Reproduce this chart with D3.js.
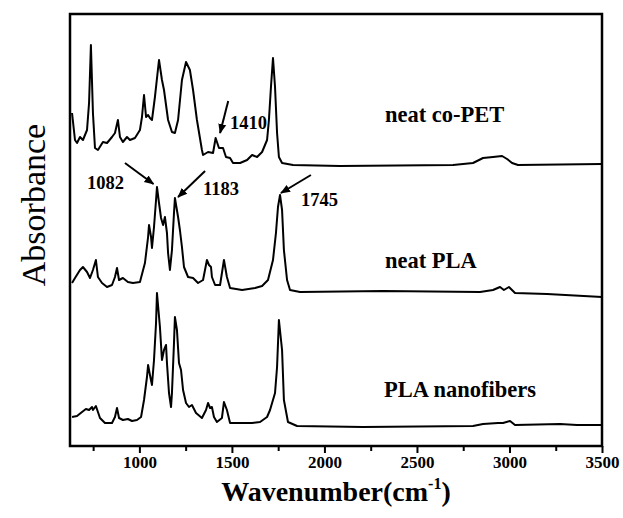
<!DOCTYPE html>
<html>
<head>
<meta charset="utf-8">
<script src="https://cdn.jsdelivr.net/npm/d3@7"></script>
<style>
  body { margin: 0; background: #fff; }
  text { font-family: "Liberation Serif", "Times New Roman", serif; fill: #000; }
  .spectrum { fill: none; stroke: #000; stroke-width: 2px; stroke-linejoin: round; }
  .axis text { font-size: 17px; font-weight: bold; }
  .axis line, .axis path { stroke: #000; stroke-width: 2px; }
</style>
</head>
<body>
<svg id="chart" width="623" height="518"></svg>
<script>

// spectra: [wavenumber (cm-1), absorbance (a.u., stacked)]
var coPET = [
  [636,3.33],[652,3.06],[663,3.03],[679,3.09],[695,3.06],[717,3.16],[728,3.43],[738,4.01],
  [749,3.33],[760,2.98],[776,2.96],[803,3.04],[825,3.03],[852,3.09],[868,3.13],[884,3.26],
  [895,3.09],[911,3.04],[933,3.09],[949,3.06],[976,3.08],[1003,3.16],[1014,3.29],[1025,3.51],
  [1036,3.29],[1047,3.31],[1057,3.28],[1068,3.26],[1084,3.49],[1100,3.76],[1106,3.86],
  [1122,3.66],[1133,3.56],[1155,3.26],[1176,3.14],[1192,3.13],[1209,3.26],[1230,3.66],
  [1252,3.84],[1273,3.76],[1290,3.56],[1311,3.26],[1338,2.96],[1344,2.91],[1371,2.94],
  [1398,2.93],[1412,3.08],[1430,2.98],[1452,2.98],[1468,2.89],[1490,2.88],[1506,2.83],
  [1544,2.83],[1582,2.86],[1609,2.91],[1636,2.89],[1663,2.94],[1690,3.06],[1700,3.26],
  [1711,3.59],[1722,3.88],[1733,3.59],[1744,3.13],[1754,2.89],[1771,2.83],[1830,2.81],
  [2084,2.80],[2695,2.81],[2803,2.83],[2857,2.88],[2911,2.89],[2960,2.90],[2987,2.87],
  [3014,2.83],[3046,2.81],[3500,2.82]
];

var neatPLA = [
  [636,1.63],[652,1.68],[679,1.76],[695,1.79],[717,1.74],[733,1.68],[749,1.76],[765,1.86],
  [776,1.69],[798,1.63],[825,1.59],[852,1.61],[868,1.69],[879,1.78],[890,1.66],[911,1.68],
  [938,1.64],[965,1.63],[1003,1.64],[1030,1.83],[1047,2.09],[1052,2.21],[1063,2.09],
  [1068,1.98],[1079,2.19],[1090,2.46],[1095,2.59],[1106,2.43],[1117,2.28],[1128,2.21],
  [1138,2.29],[1149,2.13],[1155,1.93],[1165,1.76],[1176,1.96],[1187,2.33],[1192,2.48],
  [1209,2.29],[1219,2.16],[1230,1.99],[1241,1.79],[1263,1.69],[1290,1.68],[1317,1.63],
  [1344,1.66],[1365,1.86],[1376,1.81],[1387,1.79],[1392,1.69],[1409,1.61],[1436,1.61],
  [1457,1.86],[1473,1.69],[1490,1.58],[1555,1.56],[1625,1.58],[1663,1.60],[1695,1.66],
  [1722,1.86],[1738,2.13],[1749,2.39],[1760,2.51],[1771,2.36],[1781,1.96],[1798,1.66],
  [1814,1.56],[1868,1.54],[2316,1.55],[2841,1.54],[2911,1.56],[2949,1.59],[2970,1.56],
  [2997,1.59],[3030,1.53],[3203,1.52],[3500,1.49]
];

var nanofibers = [
  [636,0.29],[663,0.30],[690,0.34],[711,0.37],[728,0.36],[744,0.39],[749,0.36],[765,0.40],
  [776,0.34],[787,0.28],[814,0.23],[852,0.23],[868,0.29],[879,0.38],[890,0.28],[911,0.26],
  [938,0.27],[960,0.25],[987,0.26],[1009,0.29],[1025,0.46],[1041,0.69],[1047,0.81],
  [1057,0.71],[1068,0.61],[1079,0.86],[1090,1.23],[1095,1.53],[1111,1.19],[1122,0.86],
  [1133,0.96],[1144,1.01],[1149,0.83],[1160,0.53],[1171,0.39],[1176,0.53],[1187,1.03],
  [1192,1.29],[1203,1.16],[1214,0.83],[1225,0.76],[1236,0.56],[1252,0.43],[1268,0.39],
  [1284,0.41],[1306,0.33],[1338,0.28],[1360,0.36],[1371,0.43],[1382,0.38],[1392,0.39],
  [1403,0.29],[1419,0.24],[1446,0.28],[1457,0.44],[1473,0.36],[1490,0.23],[1609,0.23],
  [1652,0.24],[1690,0.29],[1706,0.36],[1733,0.53],[1744,0.79],[1754,1.26],[1771,0.96],
  [1781,0.46],[1803,0.24],[1852,0.20],[2208,0.19],[2803,0.20],[2857,0.22],[2938,0.23],
  [2965,0.23],[3003,0.25],[3030,0.21],[3273,0.22],[3365,0.21],[3500,0.21]
];

// series names and where their labels sit (data units)
var seriesNames = ["neat co-PET", "neat PLA", "PLA nanofibers"];
var seriesLabelAt = [[2327,3.24],[2327,1.78],[2322,0.49]];

// peak annotations: label, label anchor, arrow tail, arrow head
var peakLabels = ["1410", "1082", "1183", "1745"];
var peakLabelAt = [[1490,3.17],[717,2.57],[1344,2.51],[1873,2.40]];
var arrowFrom = [[1480,3.45],[922,2.83],[1355,2.75],[1927,2.71]];
var arrowTo = [[1436,3.13],[1076,2.62],[1209,2.49],[1765,2.53]];

// axis ticks
var majorTicks = [1000,1500,2000,2500,3000,3500];
var minorTicks = [750,1250,1750,2250,2750,3250];

var svg = d3.select("#chart");
var margin = {top: 14, right: 21, bottom: 72, left: 70};
var width = +svg.attr("width") - margin.left - margin.right,
    height = +svg.attr("height") - margin.top - margin.bottom;

var g = svg.append("g")
  .attr("transform", "translate(" + margin.left + "," + margin.top + ")");

// scales
var x = d3.scaleLinear().domain([625, 3500]).range([0, width]);
var y = d3.scaleLinear().domain([0, 4.32]).range([height, 0]);

// spectra
var line = d3.line()
  .x((d) => { return x(d[0]); })
  .y((d) => { return y(d[1]); });

g.selectAll("path.spectrum")
  .data([coPET, neatPLA, nanofibers])
  .enter().append("path")
  .attr("class", "spectrum")
  .attr("d", line);

// bottom axis, major + minor ticks
g.append("g")
  .attr("class", "axis")
  .attr("transform", "translate(0," + height + ")")
  .call(d3.axisBottom(x).tickValues(majorTicks).tickSize(7).tickPadding(3).tickFormat(d3.format("d")))
  .call((a) => { a.select(".domain").remove(); });

g.append("g")
  .attr("class", "axis")
  .attr("transform", "translate(0," + height + ")")
  .call(d3.axisBottom(x).tickValues(minorTicks).tickSize(5).tickFormat(""))
  .call((a) => { a.select(".domain").remove(); });

// frame
g.append("rect")
  .attr("width", width)
  .attr("height", height)
  .attr("fill", "none")
  .attr("stroke", "#000")
  .attr("stroke-width", 2.5);

// series labels
g.selectAll("text.series")
  .data(seriesNames)
  .enter().append("text")
  .attr("class", "series")
  .attr("x", (d, i) => { return x(seriesLabelAt[i][0]); })
  .attr("y", (d, i) => { return y(seriesLabelAt[i][1]); })
  .style("font-size", "22.5px")
  .style("font-weight", "bold")
  .text((d) => { return d; });

// arrows
svg.append("defs").append("marker")
  .attr("id", "head")
  .attr("viewBox", "0 0 10 10")
  .attr("refX", 9)
  .attr("refY", 5)
  .attr("markerWidth", 5)
  .attr("markerHeight", 5)
  .attr("markerUnits", "strokeWidth")
  .attr("orient", "auto")
  .append("path")
  .attr("d", "M0,1L10,5L0,9Z")
  .attr("fill", "#000");

g.selectAll("line.arrow")
  .data(peakLabels)
  .enter().append("line")
  .attr("class", "arrow")
  .attr("x1", (d, i) => { return x(arrowFrom[i][0]); })
  .attr("y1", (d, i) => { return y(arrowFrom[i][1]); })
  .attr("x2", (d, i) => { return x(arrowTo[i][0]); })
  .attr("y2", (d, i) => { return y(arrowTo[i][1]); })
  .attr("stroke", "#000")
  .attr("stroke-width", 2)
  .attr("marker-end", "url(#head)");

g.selectAll("text.peak")
  .data(peakLabels)
  .enter().append("text")
  .attr("class", "peak")
  .attr("x", (d, i) => { return x(peakLabelAt[i][0]); })
  .attr("y", (d, i) => { return y(peakLabelAt[i][1]); })
  .style("font-size", "18.5px")
  .style("font-weight", "bold")
  .text((d) => { return d; });

// axis titles
var xt = svg.append("text")
  .attr("x", margin.left + width / 2)
  .attr("y", 501)
  .attr("text-anchor", "middle")
  .style("font-size", "28px")
  .style("font-weight", "bold");
xt.append("tspan").text("Wavenumber(cm");
xt.append("tspan").attr("dy", -12).style("font-size", "16px").text("-1");
xt.append("tspan").attr("dy", 12).text(")");

svg.append("text")
  .attr("transform", "translate(45,205)rotate(-90)")
  .attr("text-anchor", "middle")
  .style("font-size", "34px")
  .text("Absorbance");

</script>
</body>
</html>
